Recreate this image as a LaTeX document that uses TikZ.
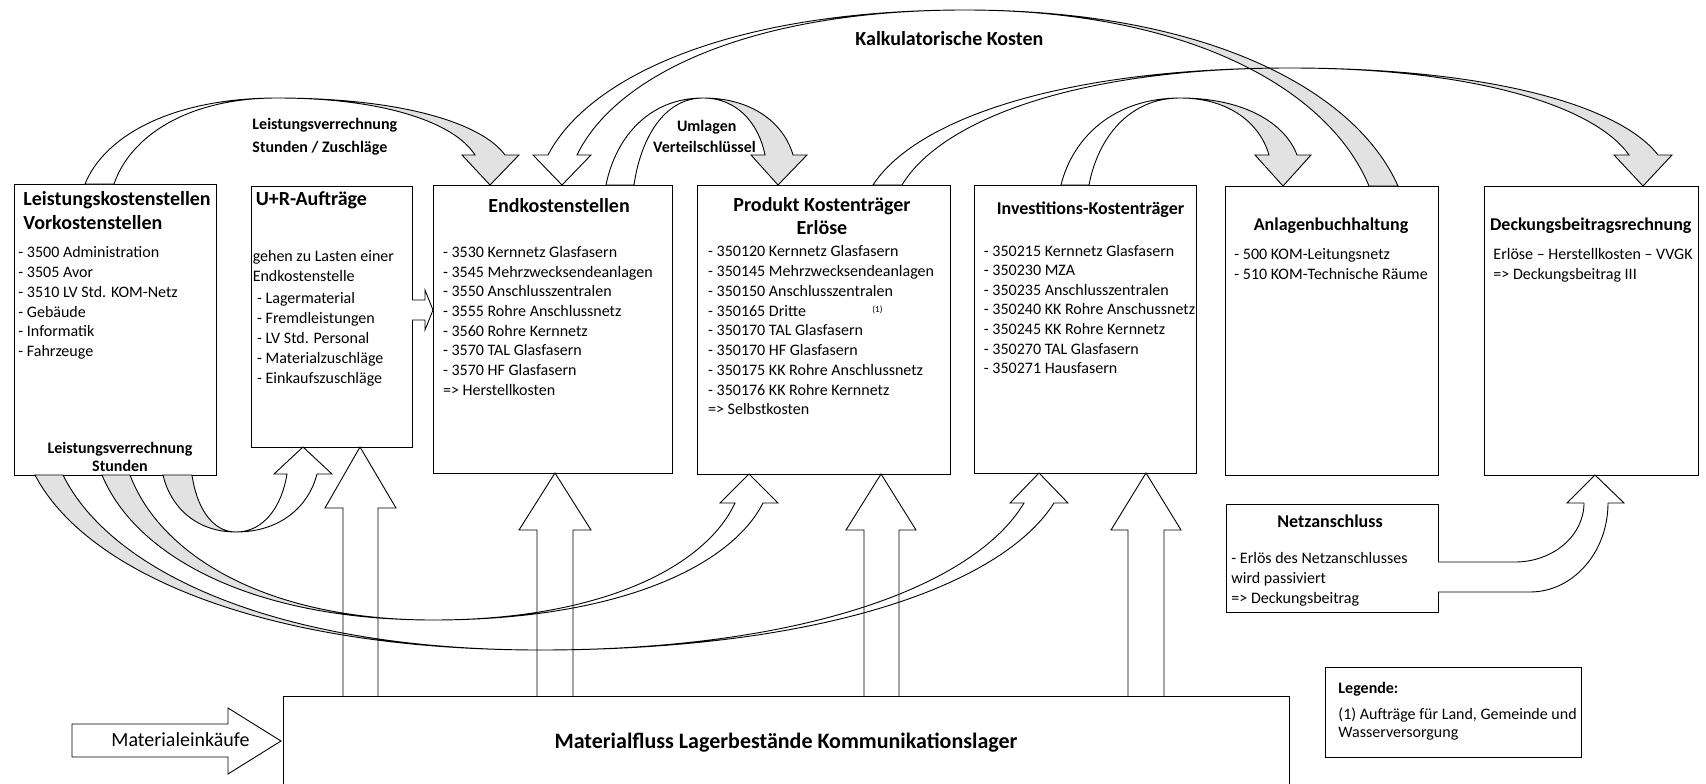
\documentclass[tikz,border=0pt]{standalone}
\usepackage{fontspec}
\setmainfont{Carlito}
\usetikzlibrary{calc}
\definecolor{ribgray}{RGB}{226,226,226}
\newcommand\fsz[1]{\fontsize{#1}{#1}\selectfont}
\newcommand\fszb[1]{\fontsize{#1}{#1}\selectfont\bfseries}
\tikzset{
  box/.style={draw, fill=white, inner sep=0pt, outer sep=0pt},
  vh/.style={to path={let \p1=(\tikztostart), \p2=(\tikztotarget) in
     .. controls ({\x1+#1*(\x2-\x1)},{\y1+0.5523*(\y2-\y1)}) and ({\x2+0.5523*(\x1-\x2)},\y2) .. (\tikztotarget)}},
  vh/.default=0.1,
  hv/.style={to path={let \p1=(\tikztostart), \p2=(\tikztotarget) in
     .. controls ({\x1+0.5523*(\x2-\x1)},\y1) and ({\x2+#1*(\x1-\x2)},{\y2+0.5523*(\y1-\y2)}) .. (\tikztotarget)}},
  hv/.default=0.1,
  rw/.style={draw, fill=white, line join=miter},
  rg/.style={draw, fill=ribgray, line join=miter},
  blk/.style={draw, line join=miter},
  t/.style={inner sep=0pt, anchor=base west, font=\fsz{16}},
  tc/.style={inner sep=0pt, anchor=base, font=\fsz{16}},
}
\newcommand\bx[5]{\node[box, minimum width={#4-#2}, minimum height={#5-#3}] (#1) at ({(#2+#4)/2},{(#3+#5)/2}) {};}
\newcommand\lst[6]{\foreach \itm [count=\ii] in {#6} {\node[t, font=#5] (#1\ii) at (#2,{#3+(\ii-1)*(#4)}) {\itm};}}
\begin{document}
\begin{tikzpicture}[x=1pt,y=-1pt,line width=0.9pt]
\useasboundingbox (0,0) rectangle (1706,784);

% boxes
\bx{b1}{14}{184}{216}{475}
\bx{b2}{251}{186}{412}{447}
\bx{b3}{433}{185}{672}{473}
\bx{b4}{697}{185}{950}{474}
\bx{b5}{974}{185}{1196}{473}
\bx{b6}{1225}{186}{1438}{475}
\bx{b7}{1484}{186}{1698}{475}
\bx{b8}{1226}{504}{1438}{612}
\bx{b9}{1325}{667}{1581}{757}
\node[box, minimum width=1006, minimum height=130] (mf) at (786,761) {};

% top ribbons
% Kalkulatorische Kosten (Anlagen -> Endkosten)
\path[rw] (965,10) to[hv] (548,155) -- (533,155) -- (562,185) -- (591,155) -- (577,155) to[vh] (965,10) -- cycle;
\path[rg] (965,10) to[hv] (1398,186) -- (1369,186) to[vh] (965,10) -- cycle;
% Leistungsverrechnung
\path[rw] (85,184) to[vh] (277,98) to[hv] (114,184) -- cycle;
\path[rg] (277,98) to[hv] (505,155) -- (519,155) -- (490,185) -- (462,155) -- (475,155) to[vh] (277,98) -- cycle;
% Umlagen
\path[rw] (606,185) to[vh] (703,98) to[hv] (634,185) -- cycle;
\path[rg] (703,98) to[hv] (793,155) -- (807,155) -- (778,185) -- (751,155) -- (765,155) to[vh] (703,98) -- cycle;
% Investitionen -> Anlagen
\path[rw] (1061,185) to[vh] (1180,98) to[hv] (1089,185) -- cycle;
\path[rg] (1180,98) to[hv] (1297,155) -- (1311,155) -- (1283,186) -- (1255,155) -- (1269,155) to[vh] (1180,98) -- cycle;
% Produkt -> Deckungsbeitrag
\path[rw] (873,185) to[vh] (1290,68) to[hv] (902,185) -- cycle;
\path[rg] (1290,68) to[hv] (1658,155) -- (1672,155) -- (1643,186) -- (1614,155) -- (1629,155) to[vh] (1290,68) -- cycle;

% bottom ribbons
\path[rg] (35,475) to[vh] (540,650) to[hv] (63,475) -- cycle;
\path[rw] (540,650) to[hv] (1054,503) -- (1068,503) -- (1039,473) -- (1010,503) -- (1024,503) to[vh] (540,650) -- cycle;
\path[rg] (102,475) to[vh] (433,620) to[hv] (130,475) -- cycle;
\path[rw] (433,620) to[hv] (763,503) -- (778,503) -- (749,474) -- (720,503) -- (735,503) to[vh] (433,620) -- cycle;
\path[rg] (163,475) to[vh] (236,532) to[hv] (192,475) -- cycle;
\path[rw] (236,532) to[hv] (317,474) -- (332,474) -- (303,447) -- (274,474) -- (287,474) to[vh] (236,532) -- cycle;

% Netzanschluss -> Deckungsbeitrag
\path[rw] (1438,562) -- (1515,562) to[hv=0] (1584,503) -- (1567,503) -- (1595,475) -- (1624,503) -- (1608,503) to[vh=0] (1530,592) -- (1438,592);

% U+R -> Endkosten
\path[rw] (412,300) -- (425,300) -- (425,290) -- (433,310) -- (425,330) -- (425,320) -- (412,320);

% Materialeinkaeufe
\path[rw] (72,724) -- (228,724) -- (228,708) -- (281,741) -- (228,774) -- (228,757) -- (72,757) -- cycle;

% vertical block arrows from Materialfluss
\draw[blk] (343,696) -- (343,508) -- (325,508) -- (360,447) -- (396,508) -- (378,508) -- (378,696);
\draw[blk] (537,696) -- (537,530) -- (519,530) -- (555,473) -- (591,530) -- (573,530) -- (573,696);
\draw[blk] (864,696) -- (864,530) -- (846,530) -- (881,474) -- (916,530) -- (899,530) -- (899,696);
\draw[blk] (1128,696) -- (1128,530) -- (1111,530) -- (1146,473) -- (1181,530) -- (1164,530) -- (1164,696);

% texts box 1
\node[t, font=\fszb{20}] (t1a) at (23,205) {Leistungskostenstellen};
\node[t, font=\fszb{20}] (t1b) at (23,229) {Vorkostenstellen};
\lst{i1-}{18}{257.3}{19.9}{\fsz{16}}{- 3500 Administration, - 3505 Avor, - 3510 LV Std. KOM-Netz, - Gebäude, - Informatik, - Fahrzeuge}
\node[tc, font=\fszb{16}] (t1c) at (120,453.3) {Leistungsverrechnung};
\node[tc, font=\fszb{16}] (t1d) at (120,471.7) {Stunden};

% U+R
\node[t, font=\fszb{20}] (t2a) at (255.3,205) {U+R-Aufträge};
\node[t] (t2b) at (252.3,261.5) {gehen zu Lasten einer};
\node[t] (t2c) at (252.3,281.5) {Endkostenstelle};
\lst{i2-}{256.7}{303.8}{20}{\fsz{16}}{- Lagermaterial, - Fremdleistungen, - LV Std. Personal, - Materialzuschläge, - Einkaufszuschläge}

% Endkostenstellen
\node[tc, font=\fszb{20}] (t3a) at (559,212) {Endkostenstellen};
\lst{i3-}{442.6}{257.5}{19.67}{\fsz{16}}{- 3530 Kernnetz Glasfasern, - 3545 Mehrzwecksendeanlagen, - 3550 Anschlusszentralen, - 3555 Rohre Anschlussnetz, - 3560 Rohre Kernnetz, - 3570 TAL Glasfasern, - 3570 HF Glasfasern, => Herstellkosten}

% Produkt
\node[tc, font=\fszb{20}] (t4a) at (822,211) {Produkt Kostenträger};
\node[tc, font=\fszb{20}] (t4b) at (822,234.6) {Erlöse};
\lst{i4-}{707.7}{256.8}{19.75}{\fsz{16}}{- 350120 Kernnetz Glasfasern, - 350145 Mehrzwecksendeanlagen, - 350150 Anschlusszentralen, - 350165 Dritte, - 350170 TAL Glasfasern, - 350170 HF Glasfasern, - 350175 KK Rohre Anschlussnetz, - 350176 KK Rohre Kernnetz, => Selbstkosten}
\node[inner sep=0pt, font=\fsz{9}] (fn1) at (877.5,310) {(1)};

% Investitionen
\node[tc, font=\fszb{18}] (t5a) at (1090.5,214.7) {Investitions-Kostenträger};
\lst{i5-}{983.5}{256}{19.6}{\fsz{16}}{- 350215 Kernnetz Glasfasern, - 350230 MZA, - 350235 Anschlusszentralen, - 350240 KK Rohre Anschussnetz, - 350245 KK Rohre Kernnetz, - 350270 TAL Glasfasern, - 350271 Hausfasern}

% Anlagen
\node[tc, font=\fszb{18}] (t6a) at (1331,230.3) {Anlagenbuchhaltung};
\lst{i6-}{1234}{259.7}{20}{\fsz{16}}{- 500 KOM-Leitungsnetz, - 510 KOM-Technische Räume}

% Deckungsbeitrag
\node[tc, font=\fszb{18}] (t7a) at (1590.8,230.3) {Deckungsbeitragsrechnung};
\node[t] (i7-1) at (1493,259.7) {Erlöse – Herstellkosten – VVGK};
\node[t] (i7-2) at (1493,279.7) {=> Deckungsbeitrag III};

% Netzanschluss
\node[tc, font=\fszb{18}] (t8a) at (1330,527.3) {Netzanschluss};
\lst{i8-}{1231}{563.3}{20}{\fsz{16}}{- Erlös des Netzanschlusses, wird passiviert, => Deckungsbeitrag}

% Legende
\node[t, font=\fszb{16}] (t9a) at (1338,693.3) {Legende:};
\node[t] (t9b) at (1338,719.3) {(1) Aufträge für Land, Gemeinde und};
\node[t] (t9c) at (1338,737.7) {Wasserversorgung};

% arrow labels
\node[t, font=\fszb{16}] (l1a) at (252,129) {Leistungsverrechnung};
\node[t, font=\fszb{16}] (l1b) at (252,152.3) {Stunden / Zuschläge};
\node[tc, font=\fszb{16}] (l2a) at (706.7,131) {Umlagen};
\node[tc, font=\fszb{16}] (l2b) at (704.5,152.3) {Verteilschlüssel};
\node[t, font=\fszb{20}] (l3) at (855,45.7) {Kalkulatorische Kosten};
\node[t, font=\fsz{20}] (l4) at (111,746.7) {Materialeinkäufe};
\node[tc, font=\fszb{22}] (l5) at (786,748.3) {Materialfluss Lagerbestände Kommunikationslager};
\end{tikzpicture}
\end{document}
